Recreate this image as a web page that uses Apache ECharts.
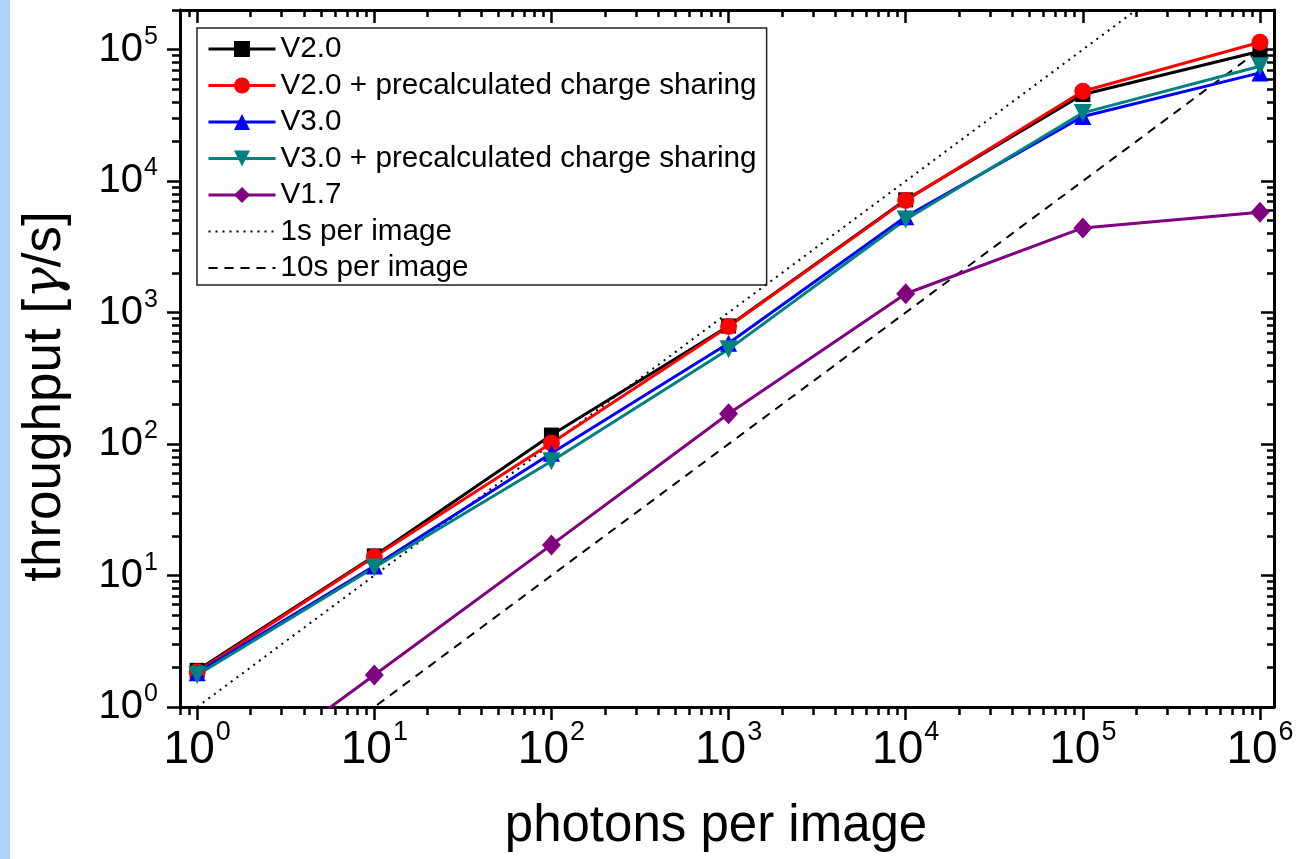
<!DOCTYPE html>
<html><head><meta charset="utf-8">
<script src="https://cdn.jsdelivr.net/npm/echarts@6/dist/echarts.min.js"></script>
<style>html,body{margin:0;padding:0;background:#fff}#c{width:1297px;height:859px}</style>
</head><body><div id="c"></div>
<script>
// ---- data ----
const photons = [1, 10, 100, 1000, 10000, 100000, 1000000];
const v20     = [1.9, 14.1, 117, 790, 7200, 45500, 97000];
const v20pre  = [1.85, 13.9, 102, 784, 7130, 48200, 113700];
const v30     = [1.82, 11.8, 85, 585, 5350, 31000, 66500];
const v30pre  = [1.75, 11.5, 74, 525, 5100, 33000, 74600];
const v17     = [0.18, 1.75, 17.1, 170, 1390, 4400, 5780];
const oneSecX = [1, 1000000];
const oneSecY = [1, 1000000];
const tenSecX = [1, 1000000];
const tenSecY = [0.1, 100000];
const seriesNames = ['V2.0', 'V2.0 + precalculated charge sharing', 'V3.0',
  'V3.0 + precalculated charge sharing', 'V1.7', '1s per image', '10s per image'];
const majorX = [1, 10, 100, 1000, 10000, 100000, 1000000];
const majorY = [1, 10, 100, 1000, 10000, 100000];
const minorMult = [2, 3, 4, 5, 6, 7, 8, 9];

const minorX = [0.8, 0.9];
for (let d = 0; d < 6; d++) minorMult.forEach(m => minorX.push(m * Math.pow(10, d)));
const minorY = [];
for (let d = 0; d < 6; d++) minorMult.forEach(m => { const v = m * Math.pow(10, d); if (v <= 200000) minorY.push(v); });

function zip(xs, ys) { return xs.map((x, i) => [x, ys[i]]); }
const FONT = '"Liberation Sans", Arial, sans-serif';
function expFmt(v) { return '{b|10}{e|' + Math.round(Math.log10(v)) + '}'; }

const X0 = { type: 'log', logBase: 10, min: 0.8, max: 1200000, gridIndex: 0, splitLine: { show: false } };
const Y0 = { type: 'log', logBase: 10, min: 1, max: 200000, gridIndex: 0, splitLine: { show: false } };
const lineBlack = { color: '#000', width: 3 };

function mkAxis(base, pos, ticks, len, inside, showLine, extra) {
  return Object.assign({}, base, {
    position: pos,
    axisLine: { show: showLine, onZero: false, lineStyle: lineBlack },
    axisTick: { show: true, inside: inside, length: len, customValues: ticks, lineStyle: { color: '#000', width: 2.5 } },
    axisLabel: { show: false },
    minorTick: { show: false }
  }, extra || {});
}

const xAxes = [
  mkAxis(X0, 'bottom', majorX, 13, false, true, {
    axisLabel: { show: true, customValues: majorX, formatter: expFmt, margin: 12,
      rich: { b: { fontSize: 46, fontFamily: FONT, color: '#000', verticalAlign: 'bottom' },
              e: { fontSize: 27, fontFamily: FONT, color: '#000', verticalAlign: 'top', padding: [0, 0, 27, 1] } } },
    name: 'photons per image', nameLocation: 'middle', nameGap: 94,
    nameTextStyle: { fontSize: 51, fontFamily: FONT, color: '#000', padding: [0, 22, 0, 0] }
  }),
  mkAxis(X0, 'bottom', minorX, 8, false, false),
  mkAxis(X0, 'top', majorX, 13, true, true),
  mkAxis(X0, 'top', minorX, 7, true, false)
];
const yAxes = [
  mkAxis(Y0, 'left', majorY, 13, false, true, {
    axisLabel: { show: true, customValues: majorY, formatter: expFmt, margin: 22,
      rich: { b: { fontSize: 40, fontFamily: FONT, color: '#000', verticalAlign: 'bottom', padding: [0, 0, 5, 0] },
              e: { fontSize: 25, fontFamily: FONT, color: '#000', verticalAlign: 'top', padding: [0, 0, 25, 1] } } },
    name: 'throughput [{g|\u03b3}/s]', nameLocation: 'middle', nameGap: 108,
    nameTextStyle: { fontSize: 53, fontFamily: FONT, color: '#000', padding: [0, 76, 0, 0],
      rich: { g: { fontSize: 53, fontFamily: '"DejaVu Serif", serif', fontStyle: 'italic', color: '#000' } } }
  }),
  mkAxis(Y0, 'left', minorY, 8, false, false),
  mkAxis(Y0, 'right', majorY, 13, true, true),
  mkAxis(Y0, 'right', minorY, 7, true, false)
];

function dataSeries(name, ys, color, symbol, size, rotate) {
  return { name: name, type: 'line', xAxisIndex: 0, yAxisIndex: 0, data: zip(photons, ys),
    symbol: symbol, symbolSize: size, symbolRotate: rotate || 0, showSymbol: true, clip: true,
    lineStyle: { color: color, width: 3 }, itemStyle: { color: color }, z: 3 };
}
function refSeries(name, xs, ys, dash) {
  return { name: name, type: 'line', xAxisIndex: 0, yAxisIndex: 0, data: zip(xs, ys), symbol: 'none', clip: true,
    lineStyle: { color: '#000', width: 2, type: dash }, itemStyle: { color: '#000' }, z: 2 };
}

const legendData = seriesNames.map((n, i) => i < 5 ? { name: n } :
  { name: n, itemStyle: { color: 'rgba(0,0,0,0)', borderWidth: 0, opacity: 0 }, lineStyle: { width: 2 } });

const chart = echarts.init(document.getElementById('c'), null, { renderer: 'canvas' });
chart.setOption({
  animation: false,
  backgroundColor: '#fff',
  textStyle: { fontFamily: FONT },
  graphic: [{ type: 'rect', left: 0, top: 0, shape: { width: 10, height: 859 }, style: { fill: '#acd4f6' }, silent: true }],
  grid: { left: 180, right: 23, top: 10, bottom: 152 },
  xAxis: xAxes,
  yAxis: yAxes,
  legend: {
    orient: 'vertical', left: 197, top: 28, data: legendData,
    padding: [6, 10, 2, 10], itemGap: 6.5, itemWidth: 67, itemHeight: 20,
    borderColor: '#222', borderWidth: 1.5, borderRadius: 0,
    lineStyle: { width: 3 },
    textStyle: { fontSize: 29.7, fontFamily: FONT, color: '#000', lineHeight: 30 }
  },
  series: [
    dataSeries(seriesNames[0], v20, '#000000', 'rect', 15),
    dataSeries(seriesNames[1], v20pre, '#ff0000', 'circle', 17),
    dataSeries(seriesNames[2], v30, '#0000ff', 'triangle', 17),
    dataSeries(seriesNames[3], v30pre, '#008080', 'triangle', 18, 180),
    dataSeries(seriesNames[4], v17, '#800080', 'diamond', [19, 21]),
    refSeries(seriesNames[5], oneSecX, oneSecY, [2, 5]),
    refSeries(seriesNames[6], tenSecX, tenSecY, [9, 7])
  ]
});
</script></body></html>
